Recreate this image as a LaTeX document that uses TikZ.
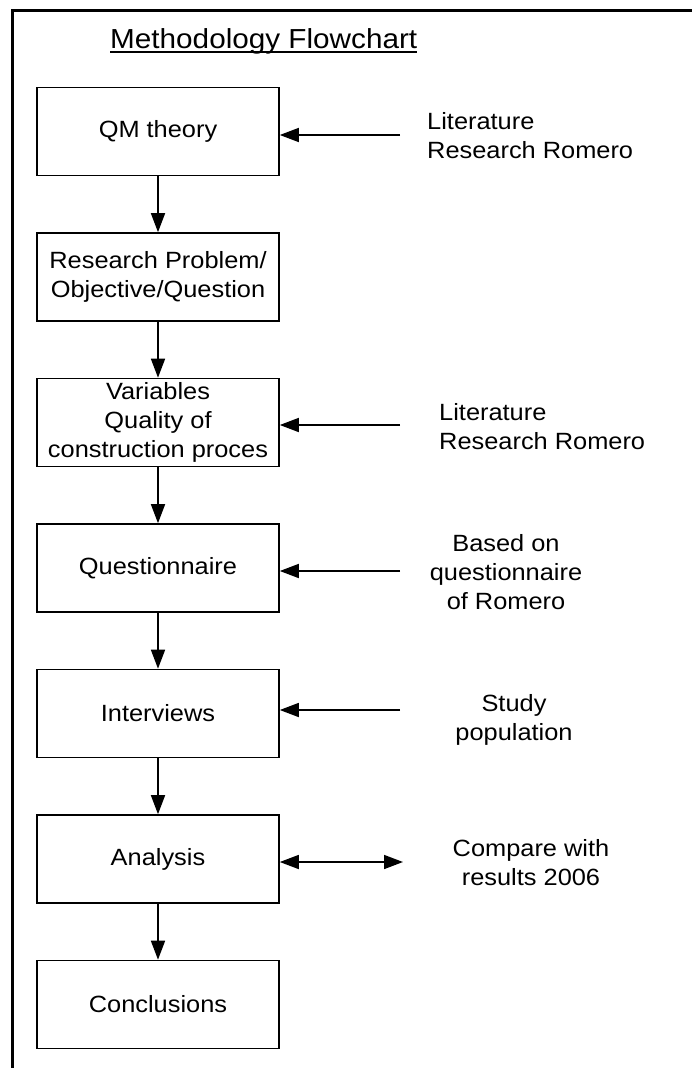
\documentclass[tikz,border=0pt]{standalone}
\usepackage{fontspec}
\setmainfont{Liberation Sans}[FakeStretch=1.08]
\usetikzlibrary{arrows.meta}
\tikzset{
  stepbox/.style={draw, line width=1.6pt, minimum width=242pt, minimum height=88pt,
    inner sep=0pt, align=center, font=\fontsize{23.5}{29}\selectfont},
  sidelabel/.style={inner sep=0pt, font=\fontsize{23.5}{29}\selectfont},
  flow/.style={line width=1.6pt, -{Triangle[length=19pt,width=14pt]}},
  both/.style={line width=1.6pt, {Triangle[length=19pt,width=14pt]}-{Triangle[length=19pt,width=14pt]}},
  frame/.style={line width=3pt}
}
\begin{document}
\begin{tikzpicture}[x=1pt,y=-1pt]
\useasboundingbox (0,0) rectangle (692,1068);
% frame
\coordinate (fc) at (12,10);
\coordinate (fr) at (700,10);
\coordinate (fb) at (12,1075);
\draw[frame] (fr) -- (fc) -- (fb);
% title
\node[inner sep=0pt, anchor=base west, font=\fontsize{27.5}{32}\selectfont] (title) at (110,48) {Methodology Flowchart};
\draw[line width=1.5pt] ([yshift=-4pt]title.base west) -- ([yshift=-4pt]title.base east);
% boxes
\node[stepbox] (qm) at (158,131.5) {QM theory};
\node[stepbox] (rp) at (158,277) {Research Problem/\\Objective/Question};
\node[stepbox] (var) at (158,422.5) {Variables\\Quality of\\construction proces};
\node[stepbox] (qn) at (158,568) {Questionnaire};
\node[stepbox] (iv) at (158,713.5) {Interviews};
\node[stepbox] (an) at (158,859) {Analysis};
\node[stepbox] (co) at (158,1004.5) {Conclusions};
% vertical arrows
\draw[flow] (qm) -- (rp);
\draw[flow] (rp) -- (var);
\draw[flow] (var) -- (qn);
\draw[flow] (qn) -- (iv);
\draw[flow] (iv) -- (an);
\draw[flow] (an) -- (co);
% side labels
\node[sidelabel, anchor=west, align=left] (l1) at (427,135.5) {Literature\\Research Romero};
\node[sidelabel, anchor=west, align=left] (l2) at (439,427) {Literature\\Research Romero};
\node[sidelabel, align=center] (l3) at (506,572) {Based on\\questionnaire\\of Romero};
\node[sidelabel, align=center] (l4) at (514,720) {Study\\population};
\node[sidelabel, align=center] (l5) at (531,863) {Compare with\\results 2006};
% side arrows
\coordinate (s1) at (400,135);
\coordinate (s2) at (400,425);
\coordinate (s3) at (400,571);
\coordinate (s4) at (400,710);
\coordinate (s5) at (403,862);
\draw[flow] (s1) -- (s1 -| qm.east);
\draw[flow] (s2) -- (s2 -| var.east);
\draw[flow] (s3) -- (s3 -| qn.east);
\draw[flow] (s4) -- (s4 -| iv.east);
\draw[both] (s5 -| an.east) -- (s5);
\end{tikzpicture}
\end{document}
